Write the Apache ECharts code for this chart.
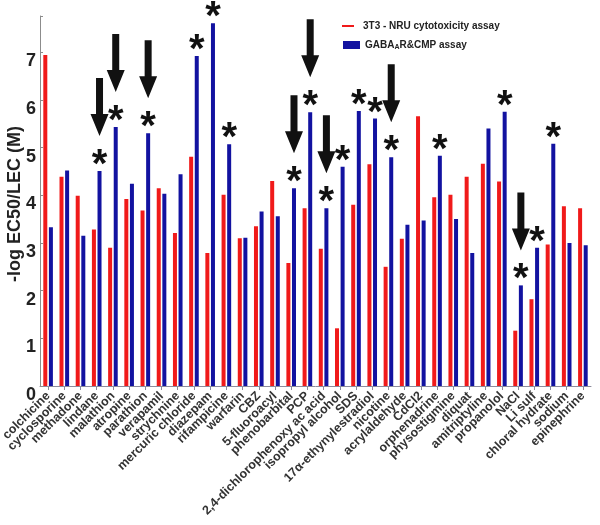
<!DOCTYPE html>
<html>
<head>
<meta charset="utf-8">
<script src="https://cdn.jsdelivr.net/npm/echarts@6/dist/echarts.min.js"></script>
<style>
  html, body { margin: 0; padding: 0; background: #fff; }
  #chart { width: 600px; height: 525px; }
</style>
</head>
<body>
<div id="chart"></div>
<script>
// compounds, in the order they appear on the x axis
var compounds = ['colchicine', 'cyclosporine', 'methadone', 'lindane', 'malathion', 'atropine',
    'parathion', 'verapamil', 'strychnine', 'mercuric chloride', 'diazepam', 'rifampicine',
    'warfarin', 'CBZ', '5-fluoroacyl', 'phenobarbital', 'PCP', '2,4-dichlorophenoxy ac acid',
    'isopropyl alcohol', 'SDS', '17α-ethynylestradiol', 'nicotine', 'acrylaldehyde', 'CdCl2',
    'orphenadrine', 'physostigmine', 'diquat', 'amitriptyline', 'propanolol', 'NaCl',
    'Li sulf', 'chloral hydrate', 'sodium', 'epinephrine'];

// -log EC50/LEC (M)
var nruValues = [6.94, 4.39, 3.99, 3.28, 2.90, 3.92, 3.68, 4.15, 3.21, 4.81, 2.79, 4.01,
    3.10, 3.35, 4.30, 2.58, 3.73, 2.88, 1.21, 3.80, 4.65, 2.50, 3.09, 5.66,
    3.96, 4.01, 4.39, 4.66, 4.29, 1.16, 1.82, 2.97, 3.77, 3.73];
var gabaValues = [3.33, 4.52, 3.15, 4.51, 5.43, 4.24, 5.30, 4.03, 4.44, 6.92, 7.61, 5.07,
    3.11, 3.66, 3.56, 4.15, 5.74, 3.73, 4.60, 5.77, 5.61, 4.80, 3.38, 3.47,
    4.83, 3.50, 2.79, 5.40, 5.75, 2.11, 2.90, 5.08, 3.00, 2.95];

// compounds marked with an asterisk / an arrow above the GABA bar
var starred = ['lindane', 'malathion', 'parathion', 'mercuric chloride', 'diazepam', 'rifampicine',
    'phenobarbital', 'PCP', '2,4-dichlorophenoxy ac acid', 'isopropyl alcohol', 'SDS',
    '17α-ethynylestradiol', 'nicotine', 'orphenadrine', 'propanolol', 'NaCl', 'Li sulf', 'chloral hydrate'];
var arrowed = ['lindane', 'malathion', 'parathion', 'phenobarbital', 'PCP',
    '2,4-dichlorophenoxy ac acid', 'nicotine', 'NaCl'];

var yTicks = [0, 1, 2, 3, 4, 5, 6, 7];

var nruName = '3T3 - NRU cytotoxicity assay';
var gabaName = 'GABAAR&CMP assay';
var font = 'Liberation Sans, Arial, sans-serif';

var markData = [];
compounds.forEach(function (c, i) {
    if (starred.indexOf(c) >= 0) {
        markData.push([i, gabaValues[i], arrowed.indexOf(c) >= 0 ? 1 : 0]);
    }
});

function renderMarks(params, api) {
    var pt = api.coord([api.value(0), api.value(1)]);
    var x = pt[0] + 2.8;
    var top = pt[1];
    var children = [{
        type: 'text',
        style: {
            text: '*', x: x, y: top - 5,
            fontSize: 40, fontWeight: 'bold', fontFamily: font,
            fill: '#111', align: 'center', verticalAlign: 'middle'
        }
    }];
    if (api.value(2)) {
        var tip = top - 35;
        children.push({
            type: 'polygon',
            shape: {
                points: [[x - 3.5, tip - 58], [x + 3.5, tip - 58], [x + 3.5, tip - 22], [x + 9, tip - 22],
                    [x, tip], [x - 9, tip - 22], [x - 3.5, tip - 22]]
            },
            style: { fill: '#111' }
        });
    }
    return { type: 'group', children: children };
}

var chart = echarts.init(document.getElementById('chart'));
chart.setOption({
    animation: false,
    backgroundColor: '#fff',
    textStyle: { fontFamily: font },
    grid: { left: 40, right: 9, top: 16, bottom: 139, containLabel: false, outerBoundsMode: 'none' },
    // y axis title, placed by hand like the original figure
    graphic: [{
        type: 'text',
        x: 15, y: 204,
        rotation: Math.PI / 2,
        style: {
            text: '-log EC50/LEC (M)',
            fontSize: 18, fontWeight: 'bold', fontFamily: font, fill: '#222',
            align: 'center', verticalAlign: 'middle'
        }
    }],
    legend: [{
        data: [nruName],
        left: 342, top: 21, padding: 0,
        icon: 'rect', itemWidth: 12, itemHeight: 2,
        textStyle: { fontSize: 10, fontWeight: 'bold', color: '#222', padding: [0, 0, 0, 4] }
    }, {
        data: [gabaName],
        left: 343, top: 40, padding: 0,
        icon: 'rect', itemWidth: 17, itemHeight: 8,
        formatter: function () { return 'GABA{s|A}R&CMP assay'; },
        textStyle: {
            fontSize: 10, fontWeight: 'bold', color: '#222',
            rich: { s: { fontSize: 7, fontWeight: 'bold', color: '#222', padding: [5, 0, 0, 0] } }
        }
    }],
    xAxis: {
        type: 'category',
        data: compounds,
        axisLine: { lineStyle: { color: '#8c8c9c', width: 1 } },
        axisTick: { show: true, inside: false, length: 4, alignWithLabel: true, lineStyle: { color: '#8c8c9c' } },
        axisLabel: {
            interval: 0, rotate: 45, margin: 8,
            fontSize: 12.5, fontWeight: 'bold', color: '#333', fontFamily: font
        },
        splitLine: { show: false }
    },
    yAxis: {
        type: 'value',
        min: 0, max: 7.76, interval: 1,
        axisLine: { show: true, lineStyle: { color: '#8c8c8c', width: 1 } },
        axisTick: { show: true, inside: true, length: 3, lineStyle: { color: '#8c8c8c' } },
        axisLabel: {
            margin: 4, fontSize: 18, fontWeight: 'bold', color: '#222', fontFamily: font,
            verticalAlign: 'top',
            formatter: function (v) { return yTicks.indexOf(v) >= 0 ? String(v) : ''; }
        },
        splitLine: { show: false }
    },
    series: [{
        name: nruName,
        type: 'bar',
        data: nruValues,
        barWidth: 4,
        barGap: '40%',
        itemStyle: { color: '#f01a1a' }
    }, {
        name: gabaName,
        type: 'bar',
        data: gabaValues,
        barWidth: 4,
        itemStyle: { color: '#1212a0' }
    }, {
        type: 'custom',
        data: markData,
        renderItem: renderMarks,
        silent: true,
        z: 5
    }]
});
</script>
</body>
</html>
